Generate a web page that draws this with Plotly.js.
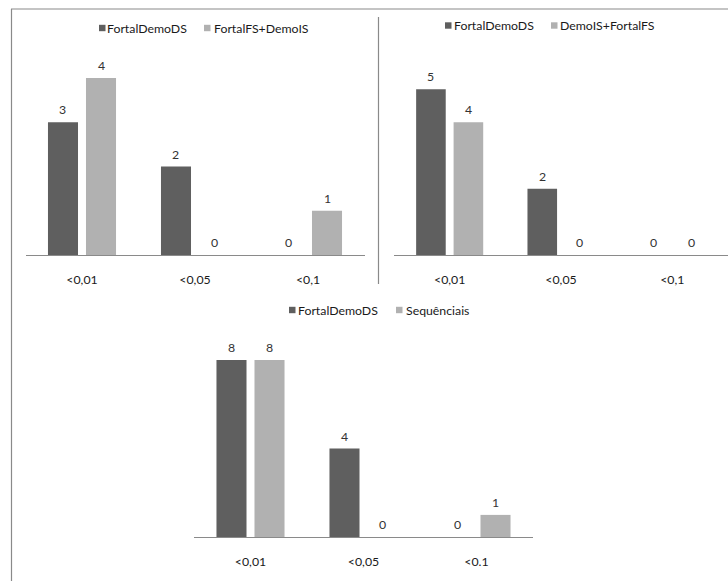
<!DOCTYPE html>
<html>
<head>
<meta charset="utf-8">
<script src="https://cdn.plot.ly/plotly-3.0.1.min.js"></script>
<style>
  html, body { margin: 0; padding: 0; background: #ffffff; }
  #chart { width: 728px; height: 581px; }
</style>
</head>
<body>
<div id="chart"></div>
<script>
// Significance-level buckets and hit counts for each comparison
const categoriesTop = ['<0,01', '<0,05', '<0,1'];
const categoriesBottom = ['<0,01', '<0,05', '<0.1'];

const nameDemoDS = 'FortalDemoDS';
const nameFsDemoIs = 'FortalFS+DemoIS';
const nameDemoIsFs = 'DemoIS+FortalFS';
const nameSequenciais = 'Sequênciais';

const demoDsVsFsDemoIs = [3, 2, 0];
const fsDemoIs = [4, 0, 1];

const demoDsVsDemoIsFs = [5, 2, 0];
const demoIsFs = [4, 0, 0];

const demoDsVsSequenciais = [8, 4, 0];
const sequenciais = [8, 0, 1];

// Styling
const DARK = '#5f5f5f';
const LIGHT = '#b1b1b1';
const FRAME = '#8a8a8a';
const FONT = 'Lato, "Open Sans", sans-serif';
const FS = 12.3;

const W = 728, H = 581;
const px = v => v / W;
const py = v => 1 - v / H;

const BARGAP = 0.327;
const GROUPGAP = 0.21;

// Panel layout (pixel geometry of each plot area)
const panels = [
  { id: '', cats: categoriesTop, dark: demoDsVsFsDemoIs, light: fsDemoIs,
    names: [nameDemoDS, nameFsDemoIs], x0: 25.5, x1: 364.5, yTop: 56, yBot: 255, yMax: 4.5,
    legendY: 28, legendX: [[99, 106], [204, 213]] },
  { id: '2', cats: categoriesTop, dark: demoDsVsDemoIsFs, light: demoIsFs,
    names: [nameDemoDS, nameDemoIsFs], x0: 394, x1: 728, yTop: 56, yBot: 255, yMax: 6,
    legendY: 25.5, legendX: [[445, 453], [551, 559]] },
  { id: '3', cats: categoriesBottom, dark: demoDsVsSequenciais, light: sequenciais,
    names: [nameDemoDS, nameSequenciais], x0: 194, x1: 533, yTop: 338, yBot: 537, yMax: 9,
    legendY: 310, legendX: [[289, 297], [396, 405]] }
];

const traces = [];
const annotations = [];
const shapes = [];
const layout = {
  width: W, height: H,
  margin: { l: 0, r: 0, t: 0, b: 0 },
  paper_bgcolor: '#ffffff', plot_bgcolor: 'rgba(0,0,0,0)',
  barmode: 'group', bargap: BARGAP, bargroupgap: GROUPGAP,
  showlegend: false,
  font: { family: FONT, size: FS, color: '#222222' }
};

panels.forEach(p => {
  const xa = 'x' + p.id, ya = 'y' + p.id;
  const xKey = 'xaxis' + p.id, yKey = 'yaxis' + p.id;

  [[p.dark, DARK, p.names[0]], [p.light, LIGHT, p.names[1]]].forEach(([vals, col, nm]) => {
    traces.push({
      type: 'bar', x: p.cats, y: vals, name: nm, xaxis: xa, yaxis: ya,
      marker: { color: col, line: { width: 0 } }, hoverinfo: 'x+y+name'
    });
  });

  layout[xKey] = {
    domain: [px(p.x0), px(p.x1)], anchor: ya, type: 'category',
    range: [-0.5, 2.5], showline: true, linecolor: FRAME, linewidth: 1,
    ticks: '', showgrid: false, zeroline: false, fixedrange: true,
    tickfont: { family: FONT, size: FS, color: '#1a1a1a' }, ticklabelstandoff: 13
  };
  layout[yKey] = {
    domain: [py(p.yBot), py(p.yTop)], anchor: xa, range: [0, p.yMax],
    visible: false, fixedrange: true
  };

  // value labels above each bar, centred on its slot within the group
  const slot = (p.x1 - p.x0) / 3 * (1 - BARGAP) / 2;
  [[p.dark, -slot / 2], [p.light, slot / 2]].forEach(([vals, shift]) => {
    vals.forEach((v, i) => {
      annotations.push({
        xref: xa, yref: ya, x: p.cats[i], y: v, text: String(v),
        showarrow: false, xshift: shift, yshift: 3, yanchor: 'bottom',
        font: { family: FONT, size: FS, color: '#333333' }
      });
    });
  });

  // legend: small square swatch followed by the series name
  [[DARK, p.names[0]], [LIGHT, p.names[1]]].forEach(([col, nm], k) => {
    const [sx, tx] = p.legendX[k];
    shapes.push({
      type: 'rect', xref: 'paper', yref: 'paper',
      x0: px(sx), x1: px(sx + 6.5), y0: py(p.legendY + 3.2), y1: py(p.legendY - 3.2),
      fillcolor: col, line: { width: 0 }
    });
    annotations.push({
      xref: 'paper', yref: 'paper', x: px(tx - 1), y: py(p.legendY),
      xanchor: 'left', yanchor: 'middle', showarrow: false, text: nm,
      font: { family: FONT, size: FS, color: '#1a1a1a' }
    });
  });
});

// frame lines separating the panels
const line = (x0, y0, x1, y1) => ({
  type: 'line', xref: 'paper', yref: 'paper',
  x0: px(x0), y0: py(y0), x1: px(x1), y1: py(y1),
  line: { color: FRAME, width: 1.2 }
});
shapes.push(line(11, 9, 728, 9));
shapes.push(line(11.5, 9, 11.5, 581));
shapes.push(line(378.5, 17, 378.5, 284));

layout.annotations = annotations;
layout.shapes = shapes;

Plotly.newPlot('chart', traces, layout, { displayModeBar: false, staticPlot: true });
</script>
</body>
</html>
